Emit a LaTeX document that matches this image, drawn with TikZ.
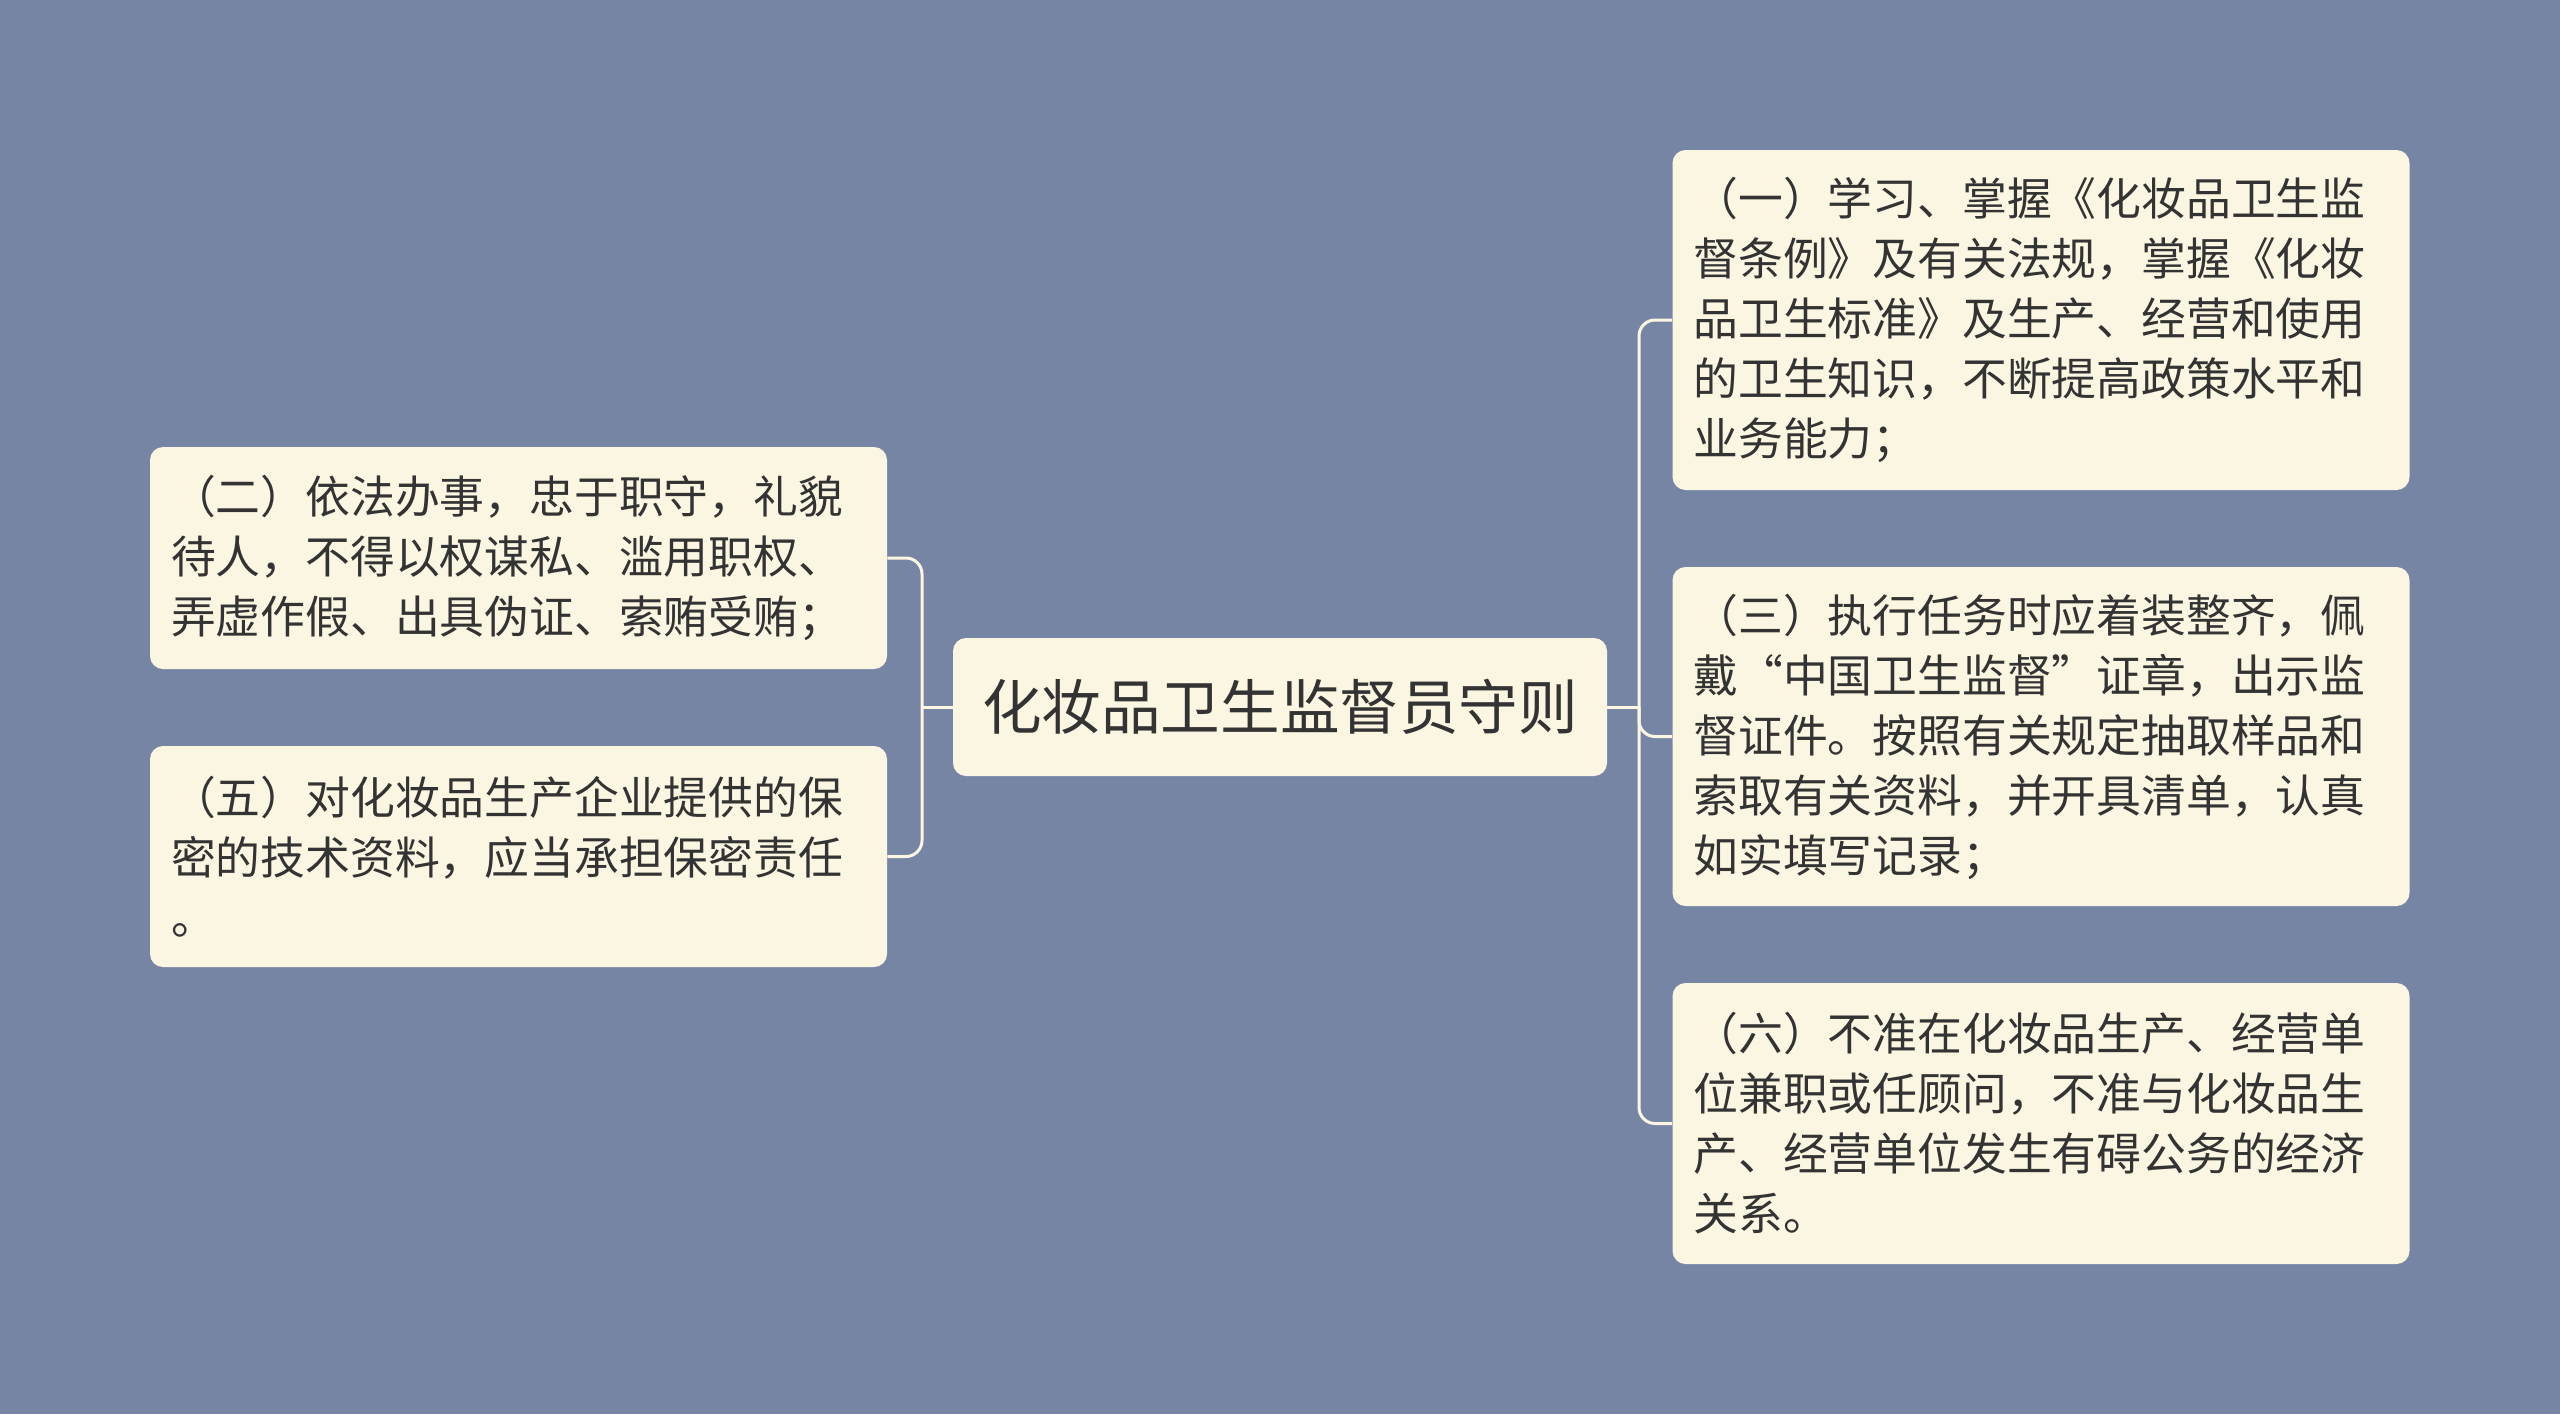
\documentclass[tikz,border=0pt]{standalone}
\usepackage{fontspec}
\setmainfont{Noto Sans CJK SC}
\definecolor{bgblue}{HTML}{7785A5}
\definecolor{cream}{HTML}{FAF6E1}
\definecolor{ink}{HTML}{333333}
\pgfdeclarelayer{bglayer}
\pgfdeclarelayer{edgelayer}
\pgfdeclarelayer{nodelayer}
\pgfsetlayers{bglayer,edgelayer,nodelayer,main}
\tikzstyle{root}=[fill=cream, rounded corners=6.5pt, text=ink, font=\fontsize{29.8}{36}\selectfont, minimum width=327pt, minimum height=69pt, inner sep=0pt]
\tikzstyle{leaf}=[fill=cream, rounded corners=6.5pt, text=ink, font=\fontsize{22.4}{30}\selectfont, text width=347.5pt, align=left, inner xsep=10.5pt, inner ysep=0pt]
\tikzstyle{link}=[draw=cream, line width=1.5pt, rounded corners=8pt]

\begin{document}
\begin{tikzpicture}[x=0.5pt, y=-0.5pt]
	\begin{pgfonlayer}{bglayer}
		\fill [bgblue] (0, 0) rectangle (2560, 1414);
	\end{pgfonlayer}
	\begin{pgfonlayer}{nodelayer}
		\node [style=root] (0) at (1280, 707) {化妆品卫生监督员守则};
		\node [style=leaf, minimum height=111pt] (1) at (518.5, 558) {（二）依法办事，忠于职守，礼貌\\待人，不得以权谋私、滥用职权、\\弄虚作假、出具伪证、索贿受贿；};
		\node [style=leaf, minimum height=110.5pt] (2) at (518.5, 856.5) {（五）对化妆品生产企业提供的保\\密的技术资料，应当承担保密责任\\。};
		\node [style=leaf, minimum height=170pt] (3) at (2041, 320) {（一）学习、掌握《化妆品卫生监\\督条例》及有关法规，掌握《化妆\\品卫生标准》及生产、经营和使用\\的卫生知识，不断提高政策水平和\\业务能力；};
		\node [style=leaf, minimum height=169.5pt] (4) at (2041, 736.5) {（三）执行任务时应着装整齐，佩\\戴“中国卫生监督”证章，出示监\\督证件。按照有关规定抽取样品和\\索取有关资料，并开具清单，认真\\如实填写记录；};
		\node [style=leaf, minimum height=140.5pt] (5) at (2041, 1123.5) {（六）不准在化妆品生产、经营单\\位兼职或任顾问，不准与化妆品生\\产、经营单位发生有碍公务的经济\\关系。};
		\coordinate (lt) at (922, 707);
		\coordinate (rt) at (1639, 707);
	\end{pgfonlayer}
	\begin{pgfonlayer}{edgelayer}
		\draw [style=link] (0.west) -- (lt);
		\draw [style=link] (lt) |- (1.east);
		\draw [style=link] (lt) |- (2.east);
		\draw [style=link] (0.east) -- (rt);
		\draw [style=link] (rt) |- (3.west);
		\draw [style=link] (rt) |- (4.west);
		\draw [style=link] (rt) |- (5.west);
	\end{pgfonlayer}
\end{tikzpicture}
\end{document}
